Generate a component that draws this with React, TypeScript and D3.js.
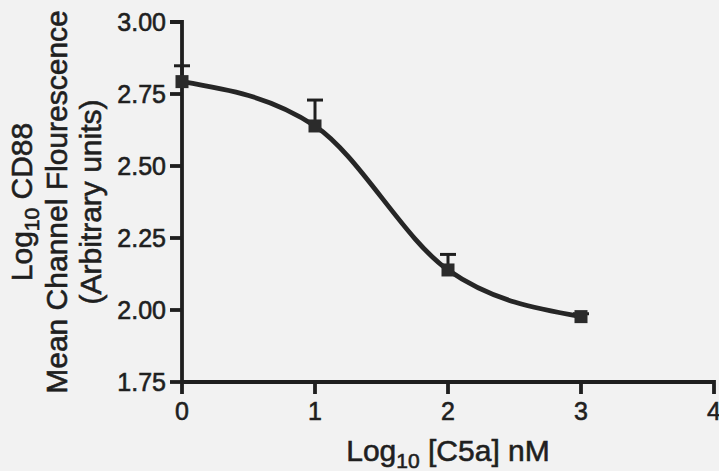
import React from "react";
import * as d3 from "d3";

// Dose–response: log10 C5a concentration vs log10 CD88 mean channel fluorescence
const doseLog = [0, 1, 2, 3];
const cd88Mean = [2.793, 2.639, 2.139, 1.977];
const cd88Sem = [0.055, 0.09, 0.054, 0.01];
const xTickValues = [0, 1, 2, 3, 4];
const yTickValues = [1.75, 2.0, 2.25, 2.5, 2.75, 3.0];

const W = 719;
const H = 471;
const FONT = "'Liberation Sans', Arial, Helvetica, sans-serif";
const INK = "#1f1f1f";

export default function App() {
  const x = d3.scaleLinear().domain([0, 4]).range([182, 714]);
  const y = d3.scaleLinear().domain([1.75, 3.0]).range([382, 22]);
  const tick = 12;

  const points = doseLog.map((d, i) => ({ x: d, y: cd88Mean[i], e: cd88Sem[i] }));
  const line = d3
    .line<{ x: number; y: number }>()
    .x((d) => x(d.x))
    .y((d) => y(d.y))
    .curve(d3.curveMonotoneX);

  const x0 = x(0);
  const yTop = y(3.0);
  const yBase = y(1.75);
  const marker = 13;
  const cap = 16;
  const textStroke = { stroke: INK, strokeWidth: 0.6 };

  return (
    <svg
      width={W}
      height={H}
      viewBox={`0 0 ${W} ${H}`}
      style={{ position: "absolute", left: 0, top: 0, background: "#f2f2f2", fontFamily: FONT }}
    >
      <rect x={0} y={0} width={W} height={H} fill="#f2f2f2" />

      {/* axes */}
      <g stroke={INK} strokeWidth={3.8} fill="none">
        <path d={`M${x0 - tick},${yTop}H${x0}V${yBase + tick}`} />
        <path d={`M${x0},${yBase}H${x(4)}V${yBase + tick}`} />
        {yTickValues.slice(0, -1).map((v) => (
          <line key={"yt" + v} x1={x0 - tick} x2={x0} y1={y(v)} y2={y(v)} />
        ))}
        {xTickValues.slice(1, -1).map((v) => (
          <line key={"xt" + v} x1={x(v)} x2={x(v)} y1={yBase} y2={yBase + tick} />
        ))}
      </g>

      {/* tick labels */}
      <g fill={INK} fontSize={25} {...textStroke}>
        {yTickValues.map((v) => (
          <text key={"yl" + v} x={x0 - tick - 4} y={y(v)} dy="0.36em" textAnchor="end">
            {v.toFixed(2)}
          </text>
        ))}
        {xTickValues.map((v) => (
          <text key={"xl" + v} x={x(v)} y={420} textAnchor="middle">
            {v}
          </text>
        ))}
      </g>

      {/* axis titles */}
      <text
        x={448}
        y={461}
        textAnchor="middle"
        fill={INK}
        fontSize={30}
        {...textStroke}
        style={{ whiteSpace: "pre" }}
      >
        Log
        <tspan fontSize={21} dy={7}>10</tspan>
        <tspan dy={-7}> [C5a] nM</tspan>
      </text>
      <g fill={INK} fontSize={30} {...textStroke} style={{ whiteSpace: "pre" }}>
        <text transform={`translate(32,${(yTop + yBase) / 2}) rotate(-90)`} textAnchor="middle">
          Log
          <tspan fontSize={21} dy={7}>10</tspan>
          <tspan dy={-7}> CD88</tspan>
        </text>
        <text transform={`translate(67,${(yTop + yBase) / 2}) rotate(-90)`} textAnchor="middle">
          Mean Channel Flourescence
        </text>
        <text transform={`translate(101,${(yTop + yBase) / 2}) rotate(-90)`} textAnchor="middle">
          (Arbitrary units)
        </text>
      </g>

      {/* error bars (upper) */}
      <g stroke={INK} strokeWidth={3} fill="none">
        {points.map((p, i) => (
          <g key={"eb" + i}>
            <line x1={x(p.x)} x2={x(p.x)} y1={y(p.y)} y2={y(p.y + p.e)} />
            <line x1={x(p.x) - cap / 2} x2={x(p.x) + cap / 2} y1={y(p.y + p.e)} y2={y(p.y + p.e)} />
          </g>
        ))}
      </g>

      {/* curve through the means */}
      <path d={line(points) || ""} fill="none" stroke="#262626" strokeWidth={4.8} strokeLinecap="round" />

      {/* markers */}
      <g fill="#2b2b2b">
        {points.map((p, i) => (
          <rect key={"m" + i} x={x(p.x) - marker / 2} y={y(p.y) - marker / 2} width={marker} height={marker} />
        ))}
      </g>
    </svg>
  );
}
